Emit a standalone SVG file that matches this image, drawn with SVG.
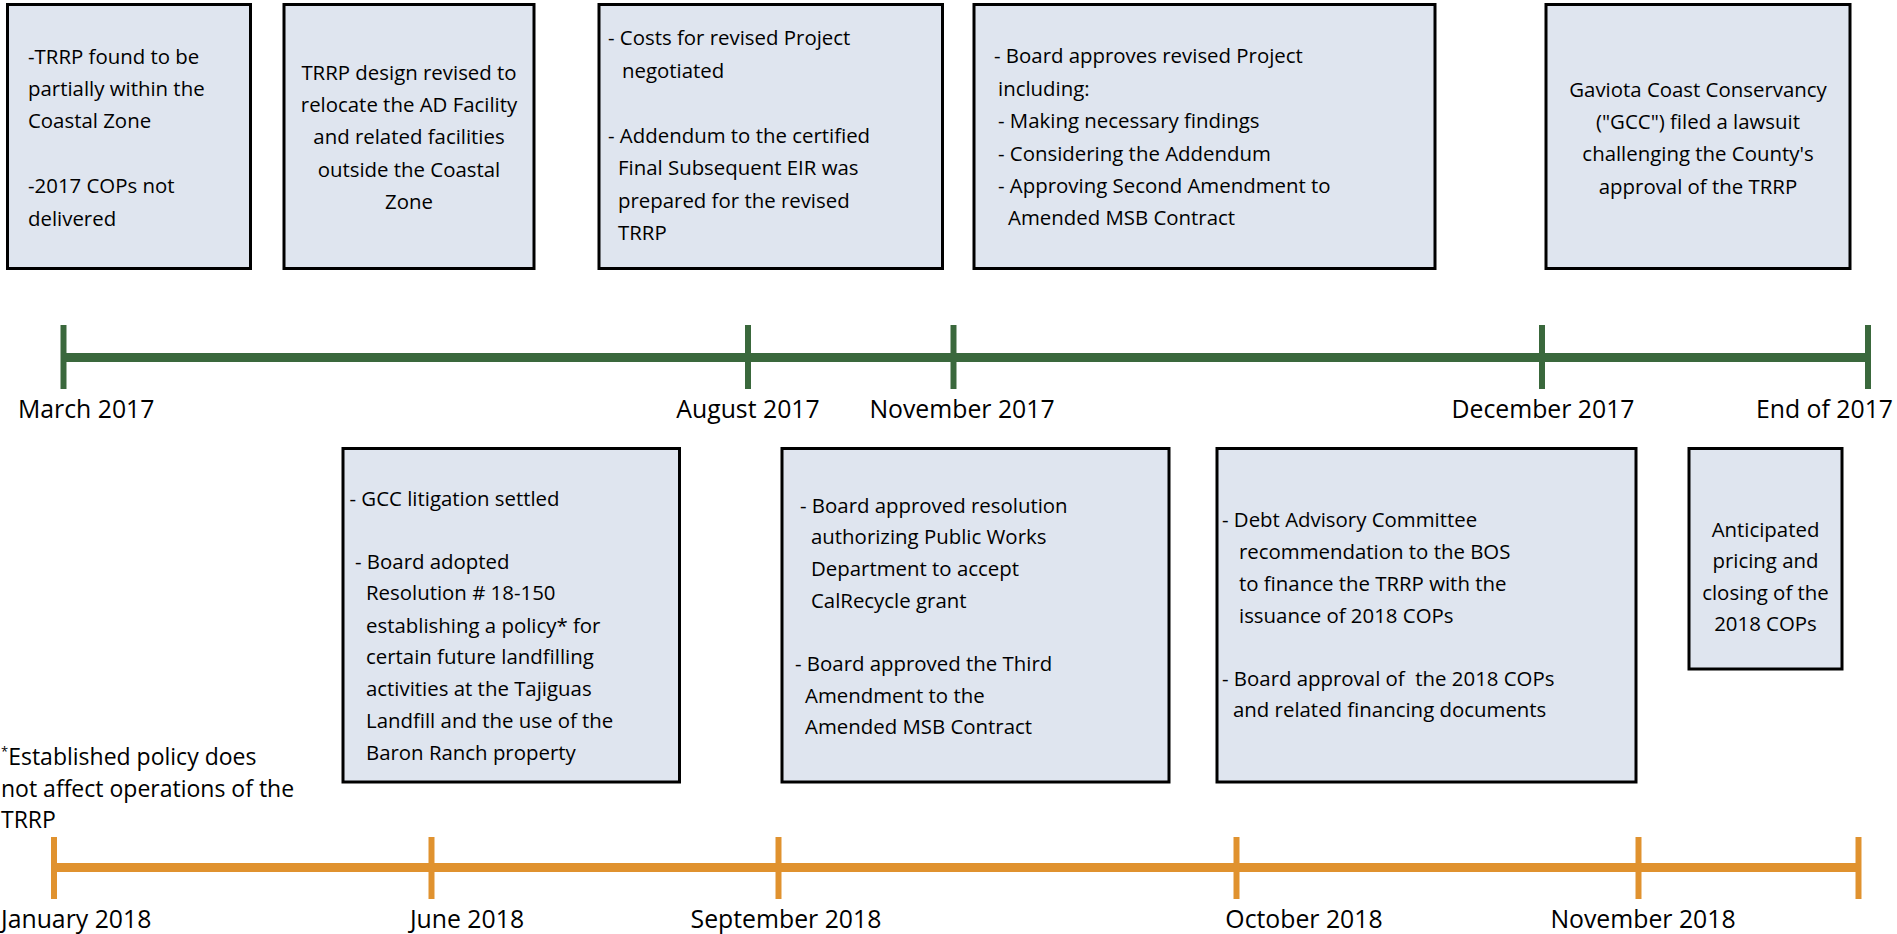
<svg xmlns="http://www.w3.org/2000/svg" width="1897" height="934" viewBox="0 0 1897 934">
<style>
.box{fill:#DFE5EF;stroke:#000;stroke-width:3}
.t{font-family:"Open Sans","Liberation Sans",sans-serif;font-size:20.4px;fill:#000}
.c{text-anchor:middle}
.lbl{font-family:"Open Sans","Liberation Sans",sans-serif;font-size:24.8px;fill:#000}
.note{font-family:"Open Sans","Liberation Sans",sans-serif;font-size:23px;fill:#000}
.gl{stroke:#3A683C;fill:none}
.ol{stroke:#E0922F;fill:none}
</style>
<rect width="1897" height="934" fill="#fff"/>

<g id="timeline-2017">
  <line class="gl" x1="63" y1="357.5" x2="1868" y2="357.5" stroke-width="9"/>
  <g stroke-width="6" class="gl">
    <line x1="63.5" y1="325" x2="63.5" y2="389"/>
    <line x1="748" y1="325" x2="748" y2="389"/>
    <line x1="953.5" y1="325" x2="953.5" y2="389"/>
    <line x1="1542" y1="325" x2="1542" y2="389"/>
    <line x1="1868" y1="325" x2="1868" y2="389"/>
  </g>
  <text class="lbl" x="18" y="418">March 2017</text>
  <text class="lbl c" x="748" y="418">August 2017</text>
  <text class="lbl c" x="962" y="418">November 2017</text>
  <text class="lbl c" x="1543" y="418">December 2017</text>
  <text class="lbl" x="1893" y="418" text-anchor="end">End of 2017</text>
</g>

<g id="timeline-2018">
  <line class="ol" x1="54" y1="867.5" x2="1859" y2="867.5" stroke-width="9"/>
  <g stroke-width="6" class="ol">
    <line x1="54" y1="837" x2="54" y2="899"/>
    <line x1="431.5" y1="837" x2="431.5" y2="899"/>
    <line x1="778.5" y1="837" x2="778.5" y2="899"/>
    <line x1="1236.5" y1="837" x2="1236.5" y2="899"/>
    <line x1="1638.5" y1="837" x2="1638.5" y2="899"/>
    <line x1="1858.5" y1="837" x2="1858.5" y2="899"/>
  </g>
  <text class="lbl" x="1" y="928">January 2018</text>
  <text class="lbl c" x="467" y="928">June 2018</text>
  <text class="lbl c" x="786" y="928">September 2018</text>
  <text class="lbl c" x="1304" y="928">October 2018</text>
  <text class="lbl c" x="1643" y="928">November 2018</text>
</g>

<g id="node-coastal-zone">
  <rect class="box" x="7.5" y="4.5" width="243" height="264"/>
  <text class="t" x="28" y="63.5">-TRRP found to be</text>
  <text class="t" x="28" y="96">partially within the</text>
  <text class="t" x="28" y="128.3">Coastal Zone</text>
  <text class="t" x="28" y="193">-2017 COPs not</text>
  <text class="t" x="28" y="225.5">delivered</text>
</g>

<g id="node-design-revised">
  <rect class="box" x="284" y="4.5" width="250" height="264"/>
  <text class="t c" x="409" y="79.5">TRRP design revised to</text>
  <text class="t c" x="409" y="112">relocate the AD Facility</text>
  <text class="t c" x="409" y="144.3">and related facilities</text>
  <text class="t c" x="409" y="176.7">outside the Coastal</text>
  <text class="t c" x="409" y="209">Zone</text>
</g>

<g id="node-costs-negotiated">
  <rect class="box" x="599" y="4.5" width="343.5" height="264"/>
  <text class="t" x="608" y="45">- Costs for revised Project</text>
  <text class="t" x="622" y="77.5">negotiated</text>
  <text class="t" x="608" y="142.5">- Addendum to the certified</text>
  <text class="t" x="618" y="175">Final Subsequent EIR was</text>
  <text class="t" x="618" y="207.5">prepared for the revised</text>
  <text class="t" x="618" y="240">TRRP</text>
</g>

<g id="node-board-approves">
  <rect class="box" x="974" y="4.5" width="461" height="264"/>
  <text class="t" x="994" y="63.3">- Board approves revised Project</text>
  <text class="t" x="998" y="95.7">including:</text>
  <text class="t" x="998" y="128">- Making necessary findings</text>
  <text class="t" x="998" y="160.5">- Considering the Addendum</text>
  <text class="t" x="998" y="193">- Approving Second Amendment to</text>
  <text class="t" x="1008" y="225.3">Amended MSB Contract</text>
</g>

<g id="node-gcc-lawsuit">
  <rect class="box" x="1546" y="4.5" width="304" height="264"/>
  <text class="t c" x="1698" y="96.5">Gaviota Coast Conservancy</text>
  <text class="t c" x="1698" y="129">("GCC") filed a lawsuit</text>
  <text class="t c" x="1698" y="161.3">challenging the County's</text>
  <text class="t c" x="1698" y="193.7">approval of the TRRP</text>
</g>

<g id="node-litigation-settled">
  <rect class="box" x="343" y="448.5" width="336.5" height="333.5"/>
  <text class="t" x="349.5" y="506">- GCC litigation settled</text>
  <text class="t" x="355" y="568.5">- Board adopted</text>
  <text class="t" x="366" y="600.3">Resolution # 18-150</text>
  <text class="t" x="366" y="632.5">establishing a policy* for</text>
  <text class="t" x="366" y="664.3">certain future landfilling</text>
  <text class="t" x="366" y="696.2">activities at the Tajiguas</text>
  <text class="t" x="366" y="728">Landfill and the use of the</text>
  <text class="t" x="366" y="759.8">Baron Ranch property</text>
</g>

<g id="node-calrecycle">
  <rect class="box" x="782" y="448.5" width="387" height="333.5"/>
  <text class="t" x="800" y="512.7">- Board approved resolution</text>
  <text class="t" x="811" y="544.3">authorizing Public Works</text>
  <text class="t" x="811" y="576">Department to accept</text>
  <text class="t" x="811" y="607.7">CalRecycle grant</text>
  <text class="t" x="795" y="670.7">- Board approved the Third</text>
  <text class="t" x="805" y="702.5">Amendment to the</text>
  <text class="t" x="805" y="734.3">Amended MSB Contract</text>
</g>

<g id="node-debt-advisory">
  <rect class="box" x="1217" y="448.5" width="419" height="333.5"/>
  <text class="t" x="1222" y="527.3">- Debt Advisory Committee</text>
  <text class="t" x="1239" y="559">recommendation to the BOS</text>
  <text class="t" x="1239" y="591">to finance the TRRP with the</text>
  <text class="t" x="1239" y="622.7">issuance of 2018 COPs</text>
  <text class="t" x="1222" y="685.7" xml:space="preserve">- Board approval of  the 2018 COPs</text>
  <text class="t" x="1233" y="717.3">and related financing documents</text>
</g>

<g id="node-pricing-closing">
  <rect class="box" x="1689" y="448.5" width="153" height="220.5"/>
  <text class="t c" x="1765.5" y="536.5">Anticipated</text>
  <text class="t c" x="1765.5" y="568">pricing and</text>
  <text class="t c" x="1765.5" y="599.5">closing of the</text>
  <text class="t c" x="1765.5" y="631">2018 COPs</text>
</g>

<g id="footnote">
  <text class="note" x="1" y="765"><tspan font-size="13" dy="-9">*</tspan><tspan dy="9">Established policy does</tspan></text>
  <text class="note" x="1" y="797">not affect operations of the</text>
  <text class="note" x="1" y="828">TRRP</text>
</g>
</svg>
